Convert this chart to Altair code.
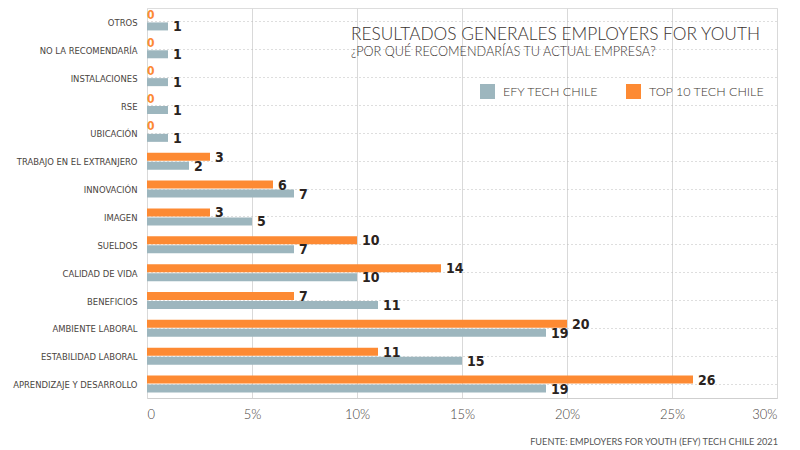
import altair as alt
import pandas as pd

categories = [
    "OTROS", "NO LA RECOMENDARÍA", "INSTALACIONES", "RSE", "UBICACIÓN",
    "TRABAJO EN EL EXTRANJERO", "INNOVACIÓN", "IMAGEN", "SUELDOS",
    "CALIDAD DE VIDA", "BENEFICIOS", "AMBIENTE LABORAL",
    "ESTABILIDAD LABORAL", "APRENDIZAJE Y DESARROLLO",
]
efy_values = [1, 1, 1, 1, 1, 2, 7, 5, 7, 10, 11, 19, 15, 19]
top10_values = [0, 0, 0, 0, 0, 3, 6, 3, 10, 14, 7, 20, 11, 26]
series_names = ["EFY TECH CHILE", "TOP 10 TECH CHILE"]
series_colors = ["#9db6be", "#fd8a33"]
x_ticks = [0, 5, 10, 15, 20, 25, 30]

title_text = "RESULTADOS GENERALES EMPLOYERS FOR YOUTH"
subtitle_text = "¿POR QUÉ RECOMENDARÍAS TU ACTUAL EMPRESA?"
source_text = "FUENTE:  EMPLOYERS FOR YOUTH (EFY) TECH CHILE 2021"

rows = []
for c, e, t in zip(categories, efy_values, top10_values):
    rows.append({"cat": c, "series": series_names[0], "value": e})
    rows.append({"cat": c, "series": series_names[1], "value": t})
df = pd.DataFrame(rows)

W, H = 630, 390
COND_FONT = "DejaVu Sans Condensed"
THIN_FONT = "Lato"

y_enc = alt.Y(
    "cat:N", sort=categories,
    scale=alt.Scale(paddingInner=0, paddingOuter=0),
    axis=alt.Axis(
        title=None, ticks=False, domain=False, labelPadding=10,
        labelFont=COND_FONT, labelFontSize=9.4, labelColor="#4a4440",
        grid=True, gridDash=[1, 3], gridColor="#bdbdbd", gridWidth=1,
        bandPosition=0.5, labelLimit=200, labelFontWeight="normal",
        labelOffset=1,
    ),
)
x_enc = alt.X(
    "value:Q",
    scale=alt.Scale(domain=[0, 30], nice=False),
    axis=alt.Axis(
        title=None, values=x_ticks, ticks=False,
        labelExpr="datum.value == 0 ? '0' : datum.value + '%'",
        labelFont=THIN_FONT, labelFontSize=13, labelColor="#4a4440",
        labelPadding=10, domainColor="#cfcfcf", gridColor="#d9d9d9",
        grid=True, labelFontWeight=300,
    ),
)
color_enc = alt.Color(
    "series:N",
    scale=alt.Scale(domain=series_names, range=series_colors),
    legend=alt.Legend(
        title=None, orient="none", legendX=333, legendY=76,
        direction="horizontal", symbolType="square", symbolSize=225,
        symbolStrokeWidth=0, labelFont=THIN_FONT, labelFontSize=12.5,
        labelColor="#3e3632", columnPadding=27, labelOffset=8,
        labelFontWeight=300,
    ),
)

base = alt.Chart(df)

orange_bars = base.transform_filter(
    alt.datum.series == series_names[1]
).mark_bar(size=8, yOffset=-4.5).encode(y=y_enc, x=x_enc, color=color_enc)

gray_bars = base.transform_filter(
    alt.datum.series == series_names[0]
).mark_bar(size=8, yOffset=4.5).encode(y=y_enc, x=x_enc, color=color_enc)

orange_labels = base.transform_filter(
    (alt.datum.series == series_names[1]) & (alt.datum.value > 0)
).mark_text(
    align="left", baseline="middle", dx=5, yOffset=-3.5,
    font=COND_FONT, fontWeight="bold", fontSize=14, color="#2a2320",
).encode(y=alt.Y("cat:N", sort=categories), x="value:Q", text="value:Q")

zero_labels = base.transform_filter(
    (alt.datum.series == series_names[1]) & (alt.datum.value == 0)
).mark_text(
    align="left", baseline="middle", dx=0, yOffset=-7,
    font=COND_FONT, fontWeight="bold", fontSize=12, color="#fd8a33",
).encode(y=alt.Y("cat:N", sort=categories), x="value:Q", text="value:Q")

gray_labels = base.transform_filter(
    alt.datum.series == series_names[0]
).mark_text(
    align="left", baseline="middle", dx=5, yOffset=5.5,
    font=COND_FONT, fontWeight="bold", fontSize=14, color="#2a2320",
).encode(y=alt.Y("cat:N", sort=categories), x="value:Q", text="value:Q")

ann = pd.DataFrame({"t": [title_text]})
title_mark = alt.Chart(ann).mark_text(
    align="left", baseline="alphabetic", font=THIN_FONT, fontSize=17.3,
    fontWeight=300, color="#3a3330",
).encode(x=alt.value(204), y=alt.value(32), text=alt.value(title_text))
subtitle_mark = alt.Chart(ann).mark_text(
    align="left", baseline="alphabetic", font=THIN_FONT, fontSize=12.7,
    fontWeight=300, color="#3a3330",
).encode(x=alt.value(204), y=alt.value(48), text=alt.value(subtitle_text))
source_mark = alt.Chart(ann).mark_text(
    align="right", baseline="alphabetic", font=THIN_FONT, fontSize=9.2,
    color="#555555",
).encode(x=alt.value(631), y=alt.value(437), text=alt.value(source_text))

chart = alt.layer(
    orange_bars, gray_bars, orange_labels, zero_labels, gray_labels,
    title_mark, subtitle_mark, source_mark,
).properties(
    width=W, height=H,
    autosize=alt.AutoSizeParams(type="none"),
    padding={"left": 139, "top": 0, "right": 15, "bottom": 50},
).configure_view(stroke=None).configure(background="white")

chart.save("out.html", embed_options={"renderer": "svg", "actions": False})
